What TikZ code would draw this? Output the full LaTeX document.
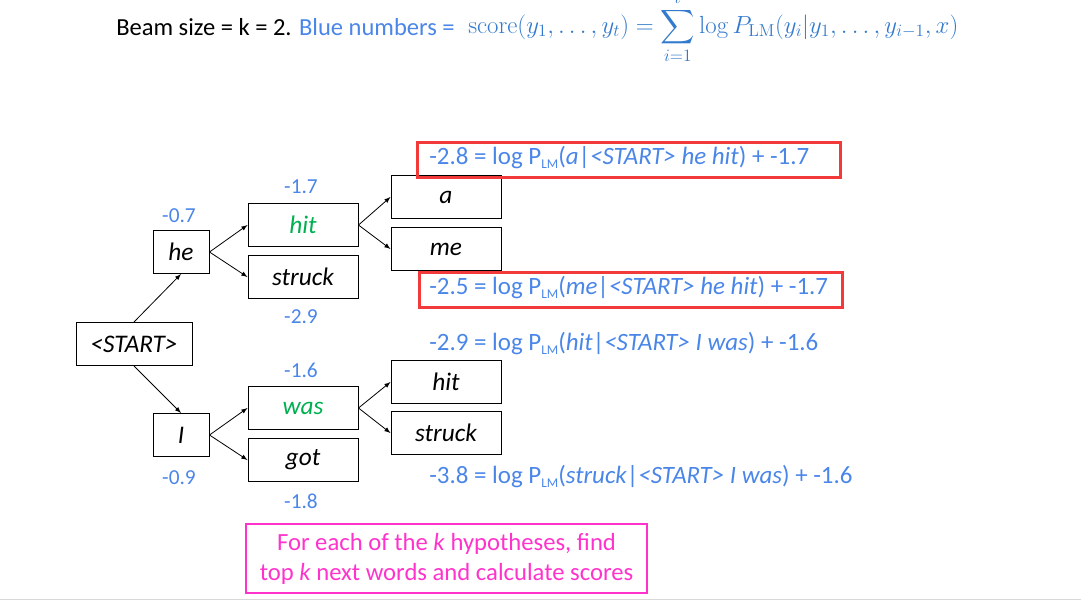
\RequirePackage{fix-cm}
\documentclass[tikz,border=0pt]{standalone}
\usepackage{amsmath}
\usepackage{graphicx}
\usepackage[no-math]{fontspec}
\setmainfont{Carlito}

\definecolor{numblue}{RGB}{74,134,232}
\definecolor{mathblue}{RGB}{50,122,205}
\definecolor{wordgreen}{RGB}{0,176,80}
\definecolor{hyppink}{RGB}{255,51,204}
\definecolor{boxred}{RGB}{242,58,58}

\newcommand{\plm}{P\raisebox{-0.35ex}{\fontsize{10}{10}\selectfont LM}}

\tikzset{
  wordbox/.style={draw,line width=0.75pt,minimum width=82.5pt,minimum height=32.25pt,inner sep=0pt,font=\fontsize{19}{19}\selectfont\itshape},
  shortbox/.style={wordbox,minimum width=42pt},
  startbox/.style={wordbox,minimum width=87pt},
  num/.style={text=numblue,inner sep=0pt,font=\fontsize{16}{16}\selectfont},
  calc/.style={text=numblue,inner sep=0pt,anchor=base west,font=\fontsize{18.7}{18.7}\selectfont},
  redframe/.style={draw=boxred,line width=2.25pt,inner sep=0pt},
}

\begin{document}
\begin{tikzpicture}[x=0.75pt,y=-0.75pt]
\useasboundingbox (0,0) rectangle (1081,601);

% heading
\node [anchor=base west,inner sep=0pt,font=\fontsize{18.4}{18.4}\selectfont](title) at (116,35) {Beam size = k = 2. \textcolor{numblue}{Blue numbers =}};
\node [anchor=base west,inner sep=0pt,text=mathblue](formula) at (468,33) {\resizebox{367.5pt}{!}{\fontsize{18}{18}\selectfont$\displaystyle \mathrm{score}(y_1,\ldots,y_t)=\sum_{i=1}^{t}\log P_{\mathrm{LM}}(y_i|y_1,\ldots,y_{i-1},x)$}};

% words
\node [startbox](start)  at (134,344) {<START>};
\node [shortbox](he)     at (181,252) {he};
\node [shortbox](i)      at (181,435) {I};
\node [wordbox](hit1)    at (303,225) {\textcolor{wordgreen}{hit}};
\node [wordbox](struck1) at (303,277) {struck};
\node [wordbox](was)     at (303,408) {\textcolor{wordgreen}{was}};
\node [wordbox](got)     at (303,460) {got};
\node [wordbox](a)       at (446,197) {a};
\node [wordbox](me)      at (446,249) {me};
\node [wordbox](hit2)    at (446,382) {hit};
\node [wordbox](struck2) at (446,433) {struck};

% scores
\node [num](s1) at (179,216) {-0.7};
\node [num](s2) at (179,478) {-0.9};
\node [num](s3) at (301,187) {-1.7};
\node [num](s4) at (301,317) {-2.9};
\node [num](s5) at (301,370) {-1.6};
\node [num](s6) at (301,501) {-1.8};

\node [calc](c1) at (429,164) {-2.8 = log \plm(\textit{a}|\textit{<START> he hit}) + -1.7};
\node [calc](c2) at (429,294) {-2.5 = log \plm(\textit{me}|\textit{<START> he hit}) + -1.7};
\node [calc](c3) at (429,350) {-2.9 = log \plm(\textit{hit}|\textit{<START> I was}) + -1.6};
\node [calc](c4) at (429,483) {-3.8 = log \plm(\textit{struck}|\textit{<START> I was}) + -1.6};

\node [redframe,minimum width=317.25pt,minimum height=26.25pt](frame1) at (628.5,159.5) {};
\node [redframe,minimum width=317.25pt,minimum height=26.25pt](frame2) at (630.5,289.5) {};

% note
\node [draw=hyppink,line width=1.5pt,text=hyppink,align=center,minimum width=300.75pt,minimum height=51.75pt,font=\fontsize{18.5}{22.5}\selectfont](note) at (446.5,558.5) {For each of the \textit{k} hypotheses, find\\top \textit{k} next words and calculate scores};

\draw [-latex,line width=0.6pt] (start.north)--(he.south);
\draw [-latex,line width=0.6pt] (start.south)--(i.north);
\draw [-latex,line width=0.6pt] (he.east)--(hit1.west);
\draw [-latex,line width=0.6pt] (he.east)--(struck1.west);
\draw [-latex,line width=0.6pt] (i.east)--(was.west);
\draw [-latex,line width=0.6pt] (i.east)--(got.west);
\draw [-latex,line width=0.6pt] (hit1.east)--(a.west);
\draw [-latex,line width=0.6pt] (hit1.east)--(me.west);
\draw [-latex,line width=0.6pt] (was.east)--(hit2.west);
\draw [-latex,line width=0.6pt] (was.east)--(struck2.west);

\draw [black!15,line width=1pt] (0,599.5)--(1081,599.5);

\end{tikzpicture}
\end{document}
